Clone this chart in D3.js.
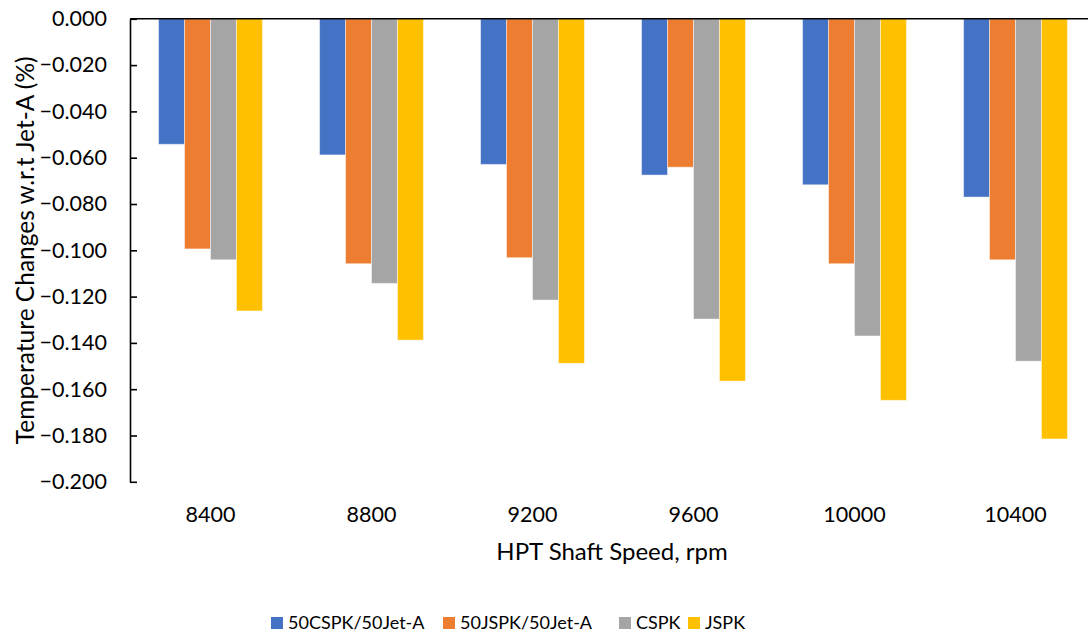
<!DOCTYPE html>
<html>
<head>
<meta charset="utf-8">
<script src="https://cdn.jsdelivr.net/npm/d3@7"></script>
<style>
  html, body { margin: 0; padding: 0; background: #fff; }
  svg { display: block; font-family: "Lato", "Open Sans", sans-serif; }
</style>
</head>
<body>
<svg id="chart" width="1088" height="636"></svg>
<script>
// Shaft speeds (rpm) on the category axis
const speeds = ["8400", "8800", "9200", "9600", "10000", "10400"];

// Fuel blends shown as grouped bars
const seriesNames = ["50CSPK/50Jet-A", "50JSPK/50Jet-A", "CSPK", "JSPK"];

// Temperature change relative to Jet-A (%), one array per blend
const cspk50 = [-0.0542, -0.0588, -0.0629, -0.0675, -0.0717, -0.0770];
const jspk50 = [-0.0994, -0.1058, -0.1032, -0.0641, -0.1058, -0.1041];
const cspk   = [-0.1041, -0.1143, -0.1215, -0.1297, -0.1370, -0.1479];
const jspk   = [-0.1262, -0.1388, -0.1488, -0.1565, -0.1648, -0.1815];

const yTicks = [0, -0.02, -0.04, -0.06, -0.08, -0.10, -0.12, -0.14, -0.16, -0.18, -0.20];

const seriesValues = [cspk50, jspk50, cspk, jspk];
const colors = ["#4472C4", "#ED7D31", "#A5A5A5", "#FFC000"];

const svg = d3.select("#chart");
const plotLeft = 130, plotRight = 1096, plotTop = 18.8, plotBottom = 481.8;

const x0 = d3.scaleBand().domain(speeds).range([plotLeft, plotRight]).padding(0);
const x1 = d3.scaleBand().domain(seriesNames).range([0, x0.bandwidth()])
  .paddingInner(0).paddingOuter(1.1);
const y = d3.scaleLinear().domain([-0.2, 0]).range([plotBottom, plotTop]);

const color = d3.scaleOrdinal().domain(seriesNames).range(colors);

// bars
const groups = svg.append("g").selectAll("g")
  .data(speeds)
  .join("g")
  .attr("transform", d => `translate(${x0(d)},0)`);

groups.selectAll("rect")
  .data((d, i) => seriesNames.map((s, k) => ({ s, v: seriesValues[k][i] })))
  .join("rect")
  .attr("x", d => x1(d.s))
  .attr("width", x1.bandwidth())
  .attr("y", y(0))
  .attr("height", d => y(d.v) - y(0))
  .attr("fill", d => color(d.s))
  .attr("stroke", "rgba(255,255,255,0.45)")
  .attr("stroke-width", 1);

// horizontal axis line at zero
svg.append("line")
  .attr("x1", plotLeft).attr("x2", 1088)
  .attr("y1", y(0)).attr("y2", y(0))
  .attr("stroke", "#000").attr("stroke-width", 1.6);

// value axis
const yAxis = svg.append("g")
  .attr("transform", `translate(${plotLeft},0)`)
  .call(d3.axisLeft(y).tickValues(yTicks).tickFormat(d3.format(".3f"))
    .tickSizeInner(-7).tickSizeOuter(0).tickPadding(23));
yAxis.select(".domain").attr("stroke", "#000").attr("stroke-width", 1.6);
yAxis.selectAll(".tick line").attr("stroke", "#000").attr("stroke-width", 1.6);
yAxis.selectAll("text").attr("font-size", 21.5).attr("fill", "#000")
  .attr("font-family", "Lato, sans-serif");

// category labels below the plot
const xAxis = svg.append("g")
  .attr("transform", `translate(0,${plotBottom})`)
  .call(d3.axisBottom(x0).tickSize(0).tickPadding(25));
xAxis.select(".domain").remove();
xAxis.selectAll("text").attr("font-size", 21.5).attr("fill", "#000")
  .attr("font-family", "Lato, sans-serif");

// axis titles
svg.append("text")
  .attr("x", 612).attr("y", 560)
  .attr("text-anchor", "middle").attr("font-size", 24).attr("fill", "#000")
  .text("HPT Shaft Speed, rpm");

svg.append("text")
  .attr("transform", `translate(34,${(plotTop + plotBottom) / 2}) rotate(-90)`)
  .attr("text-anchor", "middle").attr("font-size", 24.5).attr("fill", "#000")
  .text("Temperature Changes w.r.t Jet-A (%)");

// legend
const legendX = [271, 443, 619, 688];
const legend = svg.append("g").selectAll("g")
  .data(seriesNames)
  .join("g")
  .attr("transform", (d, i) => `translate(${legendX[i]},623)`);
legend.append("rect")
  .attr("x", 0).attr("y", -6).attr("width", 12).attr("height", 12)
  .attr("fill", d => color(d));
legend.append("text")
  .attr("x", 17).attr("y", 0).attr("dy", "0.35em")
  .attr("font-size", 18).attr("fill", "#000")
  .text(d => d);
</script>
</body>
</html>
